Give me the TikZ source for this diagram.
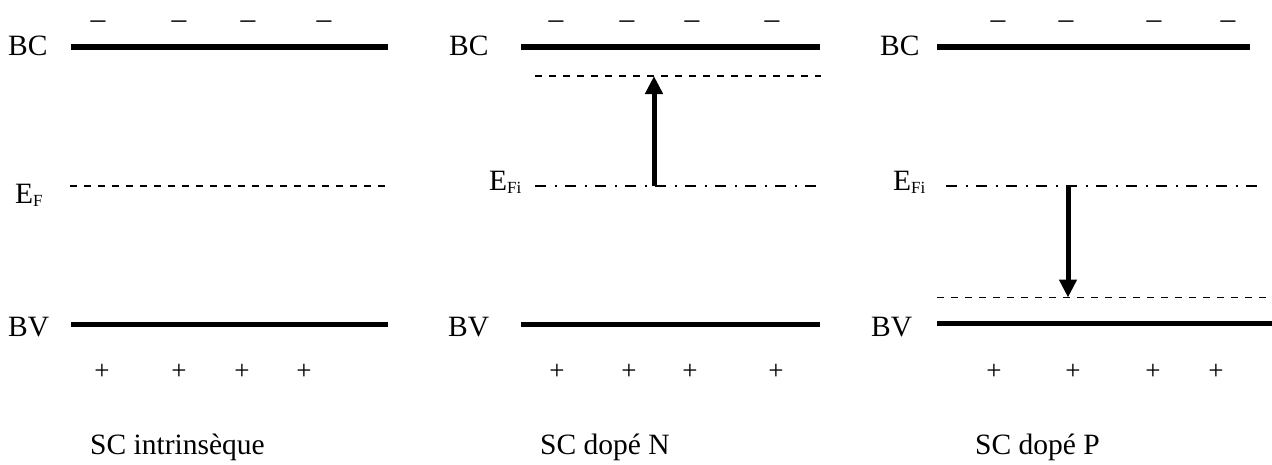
\documentclass[tikz,border=0pt]{standalone}
\usepackage{fontspec}
\setmainfont{Liberation Serif}
\usetikzlibrary{arrows.meta}
\newcommand{\subF}[1]{\raisebox{-3pt}{\fontsize{17}{17}\selectfont #1}}
\begin{document}
\begin{tikzpicture}[x=1pt,y=-1pt,
  bandline/.style={line width=5.5pt},
  fermilevel/.style={line width=1.3pt, dash pattern=on 7pt off 7pt},
  intrlevel/.style={line width=1.3pt, dash pattern=on 10.5pt off 9pt on 2pt off 8.5pt},
  lbl/.style={anchor=base west, inner sep=0pt, font=\fontsize{29.5}{30}\selectfont},
  minuslbl/.style={anchor=base, inner sep=0pt, font=\fontsize{29.5}{30}\selectfont},
  pluslbl/.style={anchor=base, inner sep=0pt, font=\fontsize{27}{27}\selectfont},
  fshift/.style={line width=5pt, -{Triangle[width=17pt,length=18pt]}}
]
\useasboundingbox (0,0) rectangle (1272,464);

% ---------- Panel 1 : intrinsic ----------
\node[lbl] (bc1) at (8,55) {BC};
\draw[bandline] (71,47) -- (388,47);
\foreach \x [count=\i] in {98,179,248,324} \node[minuslbl] (m1\i) at (\x,28) {–};
\node[lbl] (ef1) at (15,203) {E\subF{F}};
\draw[fermilevel] (70,186) -- (386,186);
\node[lbl] (bv1) at (8,336) {BV};
\draw[bandline] (71,324.5) -- (388,324.5);
\foreach \x [count=\i] in {102,179,242,304} \node[pluslbl] (p1\i) at (\x,379.5) {+};
\node[lbl] (t1) at (90,454) {SC intrinsèque};

% ---------- Panel 2 : N-doped ----------
\node[lbl] (bc2) at (449,55) {BC};
\draw[bandline] (521,47) -- (820,47);
\foreach \x [count=\i] in {556,627,692,772} \node[minuslbl] (m2\i) at (\x,28) {–};
\draw[fermilevel] (535,76) -- (821,76);
\node[lbl] (ef2) at (489,190) {E\subF{Fi}};
\draw[intrlevel] (535,186) -- (820,186);
\coordinate (n0) at (654,186);
\coordinate (n1) at (654,76);
\draw[fshift] (n0) -- (n1);
\node[lbl] (bv2) at (448,336) {BV};
\draw[bandline] (521,324.5) -- (820,324.5);
\foreach \x [count=\i] in {557,629,690,776} \node[pluslbl] (p2\i) at (\x,379.5) {+};
\node[lbl] (t2) at (540,454) {SC dopé N};

% ---------- Panel 3 : P-doped ----------
\node[lbl] (bc3) at (880,55) {BC};
\draw[bandline] (937,47) -- (1250,47);
\foreach \x [count=\i] in {998,1066,1154,1228} \node[minuslbl] (m3\i) at (\x,28) {–};
\node[lbl] (ef3) at (893,190.5) {E\subF{Fi}};
\draw[intrlevel] (946,186) -- (1260,186);
\draw[fermilevel] (937,297.5) -- (1272,297.5);
\coordinate (p0) at (1068,186);
\coordinate (p1) at (1068,297.5);
\draw[fshift] (p0) -- (p1);
\node[lbl] (bv3) at (871,336) {BV};
\draw[bandline] (937,323.5) -- (1272,323.5);
\foreach \x [count=\i] in {994,1073,1153,1216} \node[pluslbl] (p3\i) at (\x,379.5) {+};
\node[lbl] (t3) at (975,454) {SC dopé P};
\end{tikzpicture}
\end{document}
